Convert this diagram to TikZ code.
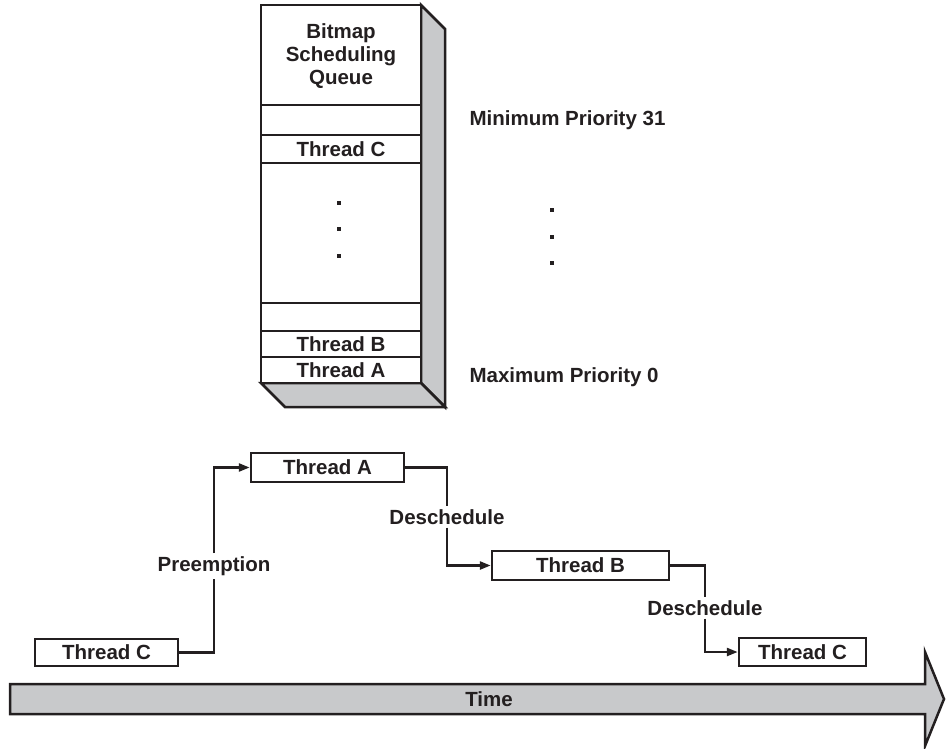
\documentclass[tikz,border=0pt]{standalone}
\usepackage{fontspec}
\setmainfont{Liberation Sans}
\usetikzlibrary{arrows.meta}
\definecolor{greyfill}{RGB}{200,201,203}
\definecolor{ink}{RGB}{35,31,32}
\begin{document}
\begin{tikzpicture}[x=1pt,y=-1pt,
  every node/.style={font=\fontsize{20.5}{24}\selectfont\bfseries, text=ink},
  tbox/.style={draw=ink, line width=2.5pt, fill=white, inner sep=0pt, minimum height=28pt},
  row/.style={draw=ink, line width=2.5pt, fill=white, inner sep=0pt, minimum width=160pt},
  conn/.style={draw=ink, line width=2.5pt},
  arr/.style={conn, -{Triangle[length=11pt,width=8pt]}},
  lbl/.style={fill=white, inner sep=3pt},
  dotm/.style={fill=ink, draw=none, rectangle, inner sep=0pt, minimum size=3.5pt}
]
\useasboundingbox (0,0) rectangle (946,749);

% ---------- 3D queue ----------
\filldraw[fill=greyfill, draw=ink, line width=2.5pt, line join=miter]
  (421,5) -- (445,29) -- (445,407) -- (421,383) -- cycle;
\filldraw[fill=greyfill, draw=ink, line width=2.5pt, line join=miter]
  (261,383) -- (421,383) -- (445,407) -- (285,407) -- cycle;
\draw[ink, line width=2.8pt, fill=white] (261,5) rectangle (421,383);
\node[align=center] (hdr) at (341,56) {Bitmap\\[-1pt]Scheduling\\[-1pt]Queue};
\draw[conn] (261,105) -- (421,105);
\node[row, minimum height=28pt] (qc) at (341,149) {Thread C};
\draw[conn] (261,303) -- (421,303);
\node[row, minimum height=26pt] (qb) at (341,344) {Thread B};
\node[row, minimum height=26pt] (qa) at (341,370) {Thread A};
\draw[ink, line width=2.8pt] (261,5) rectangle (421,383);

\node[dotm] (d1) at (339,203) {};
\node[dotm] (d2) at (339,229) {};
\node[dotm] (d3) at (339,256) {};
\node[dotm] (e1) at (552,210) {};
\node[dotm] (e2) at (552,237) {};
\node[dotm] (e3) at (552,263) {};

\node[anchor=west] (minp) at (466,120) {Minimum Priority 31};
\node[anchor=west] (maxp) at (466,377) {Maximum Priority 0};

% ---------- timeline ----------
\node[tbox, minimum width=143pt, minimum height=27pt] (c1) at (106.5,652.5) {Thread C};
\node[tbox, minimum width=153pt, minimum height=29pt] (ta) at (327.5,467.5) {Thread A};
\node[tbox, minimum width=177pt, minimum height=29pt] (tb) at (580.5,565.5) {Thread B};
\node[tbox, minimum width=127pt, minimum height=28pt] (c2) at (802.5,652) {Thread C};

\node[lbl] (pre) at (214,566) {Preemption};
\node[lbl] (ds1) at (447,517) {Deschedule};
\node[lbl] (ds2) at (705,608) {Deschedule};

\draw[conn] (c1.east) -| (pre.south);
\draw[arr] (pre.north) |- (ta.west);
\draw[conn] (ta.east) -| (ds1.north);
\draw[arr] (ds1.south) |- (tb.west);
\draw[conn] (tb.east) -| (ds2.north);
\draw[arr] (ds2.south) |- (c2.west);

% ---------- time arrow ----------
\filldraw[draw=ink, fill=greyfill, line width=2.5pt, line join=miter]
  (10,684) -- (925,684) -- (925,652) -- (944,699) -- (925,746) -- (925,714) -- (10,714) -- cycle;
\node (time) at (489,699) {Time};
\end{tikzpicture}
\end{document}
